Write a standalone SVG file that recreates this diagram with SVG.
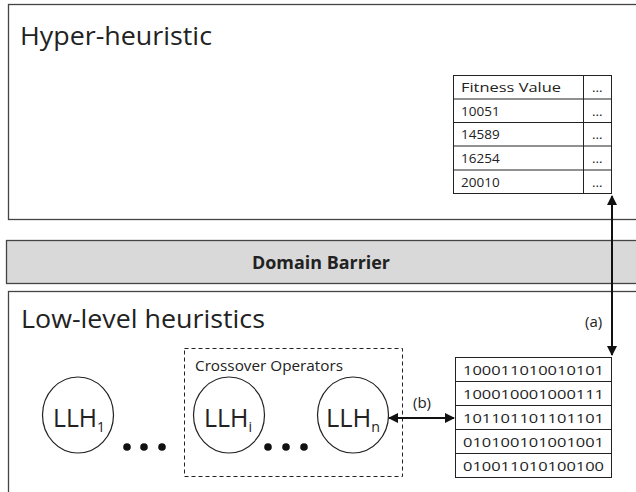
<svg xmlns="http://www.w3.org/2000/svg" width="636" height="492" viewBox="0 0 636 492">
<style>
text{font-family:"Open Sans","Noto Sans","Liberation Sans",sans-serif;fill:#222}
.box{fill:#fff;stroke:#444;stroke-width:1.3}
.cell{fill:none;stroke:#222;stroke-width:1}
.t{font-size:13.5px}
.lbl{font-size:15px}
.big{font-size:26px}
.ell{fill:#fff;stroke:#222;stroke-width:1.2}
.llh{font-size:25px}
.sub{font-size:14px}
.conn{stroke:#111;stroke-width:2;fill:none}
</style>
<defs>
<marker id="ah" viewBox="0 0 10 10" refX="9" refY="5" markerWidth="5" markerHeight="5" orient="auto-start-reverse">
<path d="M0,0 L10,5 L0,10 z" fill="#111"/>
</marker>
</defs>
<g id="hyper">
<rect class="box" x="8.5" y="4.5" width="640" height="215"/>
<text class="big" x="20" y="45" textLength="192" lengthAdjust="spacingAndGlyphs">Hyper-heuristic</text>
</g>
<g id="fitness-table">
<rect class="cell" x="453.5" y="75.5" width="158" height="118"/>
<line class="cell" x1="583.5" y1="75.5" x2="583.5" y2="193.5"/>
<line class="cell" x1="453.5" y1="99" x2="611.5" y2="99"/>
<line class="cell" x1="453.5" y1="122.5" x2="611.5" y2="122.5"/>
<line class="cell" x1="453.5" y1="146" x2="611.5" y2="146"/>
<line class="cell" x1="453.5" y1="170" x2="611.5" y2="170"/>
<text class="t" x="461" y="92" textLength="100" lengthAdjust="spacingAndGlyphs">Fitness Value</text><text class="t" x="592" y="92">...</text>
<text class="t" x="461" y="116">10051</text><text class="t" x="592" y="116">...</text>
<text class="t" x="461" y="139">14589</text><text class="t" x="592" y="139">...</text>
<text class="t" x="461" y="163">16254</text><text class="t" x="592" y="163">...</text>
<text class="t" x="461" y="187">20010</text><text class="t" x="592" y="187">...</text>
</g>
<g id="domain-barrier">
<rect x="6.5" y="240.5" width="640" height="43" fill="#d9d9d9" stroke="#444" stroke-width="1.3"/>
<text x="252" y="269" font-size="17" font-weight="bold" textLength="138" lengthAdjust="spacingAndGlyphs">Domain Barrier</text>
</g>
<g id="low-level">
<rect class="box" x="8.5" y="291.5" width="640" height="220"/>
<text class="big" x="21" y="328" textLength="244" lengthAdjust="spacingAndGlyphs">Low-level heuristics</text>
</g>
<g id="crossover-group">
<rect x="184.5" y="348.5" width="218" height="128" fill="none" stroke="#222" stroke-width="1" stroke-dasharray="4,3"/>
<text x="195" y="371" font-size="14" textLength="148" lengthAdjust="spacingAndGlyphs">Crossover Operators</text>
</g>
<g id="llh1">
<ellipse class="ell" cx="78" cy="415" rx="35.5" ry="38"/>
<text class="llh" x="53" y="427" textLength="52" lengthAdjust="spacingAndGlyphs">LLH<tspan class="sub" dy="5">1</tspan></text>
</g>
<g id="llhi">
<ellipse class="ell" cx="229" cy="415" rx="35.5" ry="38"/>
<text class="llh" x="204" y="427" textLength="48" lengthAdjust="spacingAndGlyphs">LLH<tspan class="sub" dy="5">i</tspan></text>
</g>
<g id="llhn">
<ellipse class="ell" cx="353" cy="415" rx="35.5" ry="38"/>
<text class="llh" x="326" y="427" textLength="54" lengthAdjust="spacingAndGlyphs">LLH<tspan class="sub" dy="5">n</tspan></text>
</g>
<g id="dots">
<circle cx="127" cy="447" r="3.8" fill="#111"/><circle cx="144" cy="447" r="3.8" fill="#111"/><circle cx="162" cy="447" r="3.8" fill="#111"/>
<circle cx="268" cy="447" r="3.8" fill="#111"/><circle cx="286" cy="447" r="3.8" fill="#111"/><circle cx="304" cy="447" r="3.8" fill="#111"/>
</g>
<g id="binary-table">
<rect class="cell" x="455.5" y="357.5" width="156" height="120"/>
<line class="cell" x1="455.5" y1="381.5" x2="611.5" y2="381.5"/>
<line class="cell" x1="455.5" y1="405.5" x2="611.5" y2="405.5"/>
<line class="cell" x1="455.5" y1="429.5" x2="611.5" y2="429.5"/>
<line class="cell" x1="455.5" y1="453.5" x2="611.5" y2="453.5"/>
<text class="t" x="463" y="375" textLength="141" lengthAdjust="spacingAndGlyphs">100011010010101</text>
<text class="t" x="463" y="399" textLength="141" lengthAdjust="spacingAndGlyphs">100010001000111</text>
<text class="t" x="463" y="423" textLength="141" lengthAdjust="spacingAndGlyphs">101101101101101</text>
<text class="t" x="463" y="447" textLength="141" lengthAdjust="spacingAndGlyphs">010100101001001</text>
<text class="t" x="463" y="471" textLength="141" lengthAdjust="spacingAndGlyphs">010011010100100</text>
</g>
<g id="connectors">
<line class="conn" x1="612" y1="196" x2="612" y2="355" marker-start="url(#ah)" marker-end="url(#ah)"/>
<text class="lbl" x="585" y="327">(a)</text>
<line class="conn" x1="389" y1="418" x2="454" y2="418" marker-start="url(#ah)" marker-end="url(#ah)"/>
<text class="lbl" x="413" y="408">(b)</text>
</g>
</svg>
